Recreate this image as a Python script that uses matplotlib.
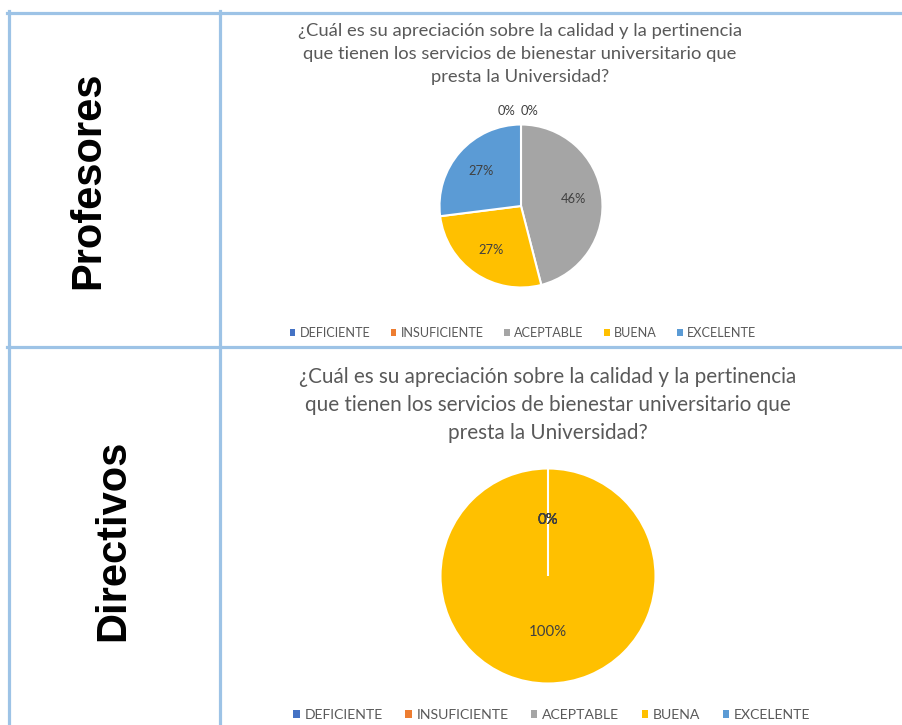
import matplotlib
matplotlib.use("Agg")
import matplotlib.pyplot as plt
from matplotlib.lines import Line2D
from matplotlib.patches import Patch

W, H = 902, 725

categories = ["DEFICIENTE", "INSUFICIENTE", "ACEPTABLE", "BUENA", "EXCELENTE"]
colors = ["#4472C4", "#ED7D31", "#A5A5A5", "#FFC000", "#5B9BD5"]
profesores = [0, 0, 46, 27, 27]
directivos = [0, 0, 0, 100, 0]
title = ("¿Cuál es su apreciación sobre la calidad y la pertinencia\n"
         "que tienen los servicios de bienestar universitario que\n"
         "presta la Universidad?")
row_labels = ["Profesores", "Directivos"]

FONT = ["Lato", "DejaVu Sans"]
TXT = "#595959"
LAB = "#404040"
BORDER = "#9DC3E6"

fig = plt.figure(figsize=(W / 100, H / 100), dpi=100)


def fx(x):
    return x / W


def fy(y):
    return 1 - y / H


def hline(y, x0, x1):
    fig.add_artist(Line2D([fx(x0), fx(x1)], [fy(y), fy(y)], color=BORDER, lw=2.3,
                          transform=fig.transFigure))


def vline(x, y0, y1):
    fig.add_artist(Line2D([fx(x), fx(x)], [fy(y0), fy(y1)], color=BORDER, lw=2.3,
                          transform=fig.transFigure))


hline(12.5, 7, 902)
hline(347.5, 7, 902)
vline(8.5, 11, 725)
vline(219.5, 11, 725)


def draw_pie(values, cx, cy, R, pctdist, fs, zero_outside):
    ax = fig.add_axes([fx(cx - 1.25 * R), fy(cy + 1.25 * R), 2.5 * R / W, 2.5 * R / H])
    wedges, texts, autotexts = ax.pie(
        values, colors=colors, startangle=90, counterclock=False,
        autopct=lambda p: f"{p:.0f}%", pctdistance=pctdist,
        wedgeprops=dict(edgecolor="white", linewidth=1.5),
        textprops=dict(color=LAB, fontsize=fs, family=FONT))
    ax.set_xlim(-1.25, 1.25)
    ax.set_ylim(-1.25, 1.25)
    ax.set_aspect("equal")
    ax.axis("off")
    if zero_outside:
        zeros = [i for i, v in enumerate(values) if v == 0]
        n = len(zeros)
        for k, i in enumerate(zeros):
            autotexts[i].set_position(((k - n / 2) * 0.28 - 0.01, 1.16))
            autotexts[i].set_ha("left")
    return ax


draw_pie(profesores, 521, 206, 81.5, 0.65, 9.3, True)
draw_pie(directivos, 548, 576, 107.5, 0.52, 10.8, False)

fig.text(fx(520), fy(54), title, ha="center", va="center", color=TXT,
         fontsize=13.2, family=FONT, linespacing=1.55)
fig.text(fx(548), fy(405), title, ha="center", va="center", color=TXT,
         fontsize=14.9, family=FONT, linespacing=1.47)

fig.text(fx(88), fy(180), row_labels[0], rotation=90, ha="center", va="center",
         fontsize=30, fontweight="bold", family=["Liberation Sans", "DejaVu Sans"])
fig.text(fx(113), fy(540), row_labels[1], rotation=90, ha="center", va="center",
         fontsize=30, fontweight="bold", family=["Liberation Sans", "DejaVu Sans"])

handles = [Patch(facecolor=c, edgecolor="none") for c in colors]
leg1 = fig.legend(handles, categories, loc="center", bbox_to_anchor=(fx(523), fy(333)),
                  ncol=5, frameon=False, handlelength=0.45, handleheight=0.45,
                  handletextpad=0.35, columnspacing=1.6,
                  prop=dict(family=FONT, size=9.1))
for t in leg1.get_texts():
    t.set_color(TXT)
leg2 = fig.legend(handles, categories, loc="center", bbox_to_anchor=(fx(552), fy(715)),
                  ncol=5, frameon=False, handlelength=0.45, handleheight=0.45,
                  handletextpad=0.35, columnspacing=1.6,
                  prop=dict(family=FONT, size=10.1))
for t in leg2.get_texts():
    t.set_color(TXT)

fig.savefig("out.png", dpi=100, facecolor="white")
